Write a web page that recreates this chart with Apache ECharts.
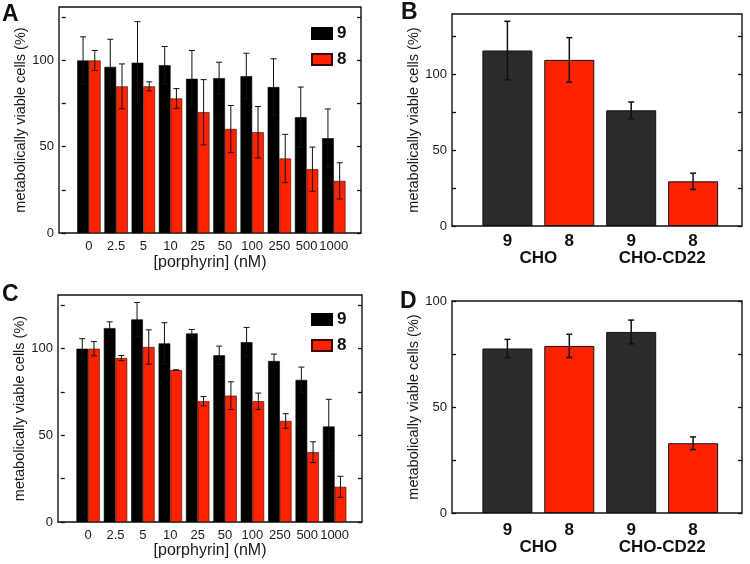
<!DOCTYPE html>
<html>
<head>
<meta charset="utf-8">
<script src="https://cdn.jsdelivr.net/npm/echarts@6.0.0/dist/echarts.min.js"></script>
<style>
html, body { margin: 0; padding: 0; background: #fff; }
#chart { width: 750px; height: 564px; }
</style>
</head>
<body>
<div id="chart"></div>
<script>
// porphyrin concentrations (nM), x categories of panels A and C
var concLabels = ['0', '2.5', '5', '10', '25', '50', '100', '250', '500', '1000'];

// panel A
var aBlack    = [100, 96.3, 98.7, 97.3, 89.4, 89.8, 90.9, 84.6, 67.1, 54.9];
var aBlackErr = [13.7, 16, 23.8, 10.8, 16.4, 9.2, 13.3, 16.4, 17.5, 17];
var aRed      = [100, 85, 85, 78, 70, 60.3, 58.4, 43.2, 37, 30.2];
var aRedErr   = [5.8, 13, 2.6, 5.7, 18.9, 13.6, 14.9, 14, 12.8, 10.5];

// panel C
var cBlack    = [100, 111.9, 116.9, 103.1, 108.8, 96.2, 103.8, 92.9, 82, 55.1];
var cBlackErr = [5.8, 3.6, 9.8, 11.9, 2.3, 5.3, 8.5, 4, 7.4, 15.7];
var cRed      = [100, 94.6, 101, 87.7, 69.7, 72.9, 69.7, 58.3, 40.3, 20.3];
var cRedErr   = [4.1, 1.5, 9.9, 0, 2.7, 8, 4.7, 4.2, 6, 6.1];

// panels B and D
var compounds = ['9', '8', '9', '8'];
var cellLines = ['CHO', 'CHO-CD22'];
var bVals = [115.9, 109.7, 76.4, 29.5];
var bErr  = [19.3, 14.7, 5.5, 5.4];
var dVals = [77.6, 78.8, 85.4, 32.9];
var dErr  = [4.3, 5.5, 5.6, 3];

// y axis ticks / labels
var yLabels   = [0, 50, 100];
var yTicksAC  = [0, 25, 50, 75, 100, 125];
var yTicksB   = [0, 25, 50, 75, 100, 125];
var yTicksD   = [0, 25, 50, 75, 100];

var BLACK = '#000000';
var GRAY = '#2b2b2b';
var RED = '#ff2200';
var FONT = 'Liberation Sans, Arial, sans-serif';

var dom = document.getElementById('chart');
var myChart = echarts.init(dom);

function positions(n) {
    var out = [];
    for (var i = 1; i <= n; i++) out.push(i);
    return out;
}

function grid(left, top, width, height) {
    return {
        left: left, top: top, width: width, height: height,
        show: true, borderColor: '#111', borderWidth: 1.4,
        backgroundColor: 'transparent'
    };
}

function leftAxis(gridIndex, max, ticks) {
    return {
        type: 'value', gridIndex: gridIndex, position: 'left',
        min: 0, max: max,
        name: 'metabolically viable cells (%)',
        nameLocation: 'middle', nameGap: 30,
        nameTextStyle: { fontSize: 14.5, color: '#1a1a1a', fontFamily: FONT },
        axisLine: { show: false },
        axisTick: { show: true, inside: true, length: 4, customValues: ticks,
            lineStyle: { color: '#111', width: 1.3 } },
        axisLabel: { customValues: yLabels, fontSize: 13, color: '#1a1a1a', margin: 5, fontFamily: FONT },
        splitLine: { show: false }
    };
}

function rightAxis(gridIndex, max, ticks) {
    return {
        type: 'value', gridIndex: gridIndex, position: 'right',
        min: 0, max: max,
        axisLine: { show: false },
        axisTick: { show: true, inside: true, length: 4, customValues: ticks,
            lineStyle: { color: '#111', width: 1.3 } },
        axisLabel: { show: false },
        splitLine: { show: false }
    };
}

function concAxis(gridIndex, nameGap) {
    return {
        type: 'value', gridIndex: gridIndex, min: -0.1, max: 11,
        name: '[porphyrin] (nM)', nameLocation: 'middle', nameGap: nameGap,
        nameTextStyle: { fontSize: 16, color: '#1a1a1a', fontFamily: FONT },
        axisLine: { show: false },
        axisTick: { show: false },
        splitLine: { show: false },
        axisLabel: {
            customValues: positions(concLabels.length),
            formatter: function (v) { return concLabels[Math.round(v) - 1]; },
            fontSize: 13, color: '#1a1a1a', margin: 7, fontFamily: FONT
        }
    };
}

function compoundAxis(gridIndex, margin) {
    return {
        type: 'value', gridIndex: gridIndex, position: 'bottom', min: 0.105, max: 4.79,
        axisLine: { show: false }, axisTick: { show: false }, splitLine: { show: false },
        axisLabel: {
            customValues: positions(compounds.length),
            formatter: function (v) { return compounds[Math.round(v) - 1]; },
            fontSize: 17, fontWeight: 'bold', color: '#111', margin: margin, fontFamily: FONT
        }
    };
}

function cellAxis(gridIndex, margin) {
    return {
        type: 'value', gridIndex: gridIndex, position: 'bottom', min: 0.105, max: 4.79,
        axisLine: { show: false }, axisTick: { show: false }, splitLine: { show: false },
        axisLabel: {
            customValues: [1.5, 3.5],
            formatter: function (v) { return cellLines[v < 2.5 ? 0 : 1]; },
            fontSize: 17, fontWeight: 'bold', color: '#111', margin: margin, fontFamily: FONT
        }
    };
}

function pairBars(name, xi, yi, vals, color, border) {
    return {
        name: name, type: 'bar', xAxisIndex: xi, yAxisIndex: yi,
        barWidth: 11.7, barGap: '0%',
        itemStyle: { color: color, borderColor: border, borderWidth: 0.6 },
        data: vals.map(function (v, i) { return [i + 1, v]; })
    };
}

function errorBars(xi, yi, vals, errs, dx, capW, lw) {
    return {
        type: 'custom', xAxisIndex: xi, yAxisIndex: yi, z: 5, silent: true,
        data: vals.map(function (v, i) { return [i + 1, v, errs[i]]; }),
        renderItem: function (params, api) {
            var x = api.value(0), y = api.value(1), e = api.value(2);
            var hi = api.coord([x, y + e]);
            var lo = api.coord([x, y - e]);
            var cx = hi[0] + dx;
            var st = { stroke: '#111', lineWidth: lw };
            return {
                type: 'group',
                children: [
                    { type: 'line', shape: { x1: cx, y1: hi[1], x2: cx, y2: lo[1] }, style: st },
                    { type: 'line', shape: { x1: cx - capW / 2, y1: hi[1], x2: cx + capW / 2, y2: hi[1] }, style: st },
                    { type: 'line', shape: { x1: cx - capW / 2, y1: lo[1], x2: cx + capW / 2, y2: lo[1] }, style: st }
                ]
            };
        }
    };
}

function cellBars(name, xi, yi, vals) {
    return {
        name: name, type: 'bar', xAxisIndex: xi, yAxisIndex: yi, barWidth: 50,
        data: vals.map(function (v, i) {
            return {
                value: [i + 1, v],
                itemStyle: { color: compounds[i] === '9' ? GRAY : RED, borderColor: '#111', borderWidth: 1 }
            };
        })
    };
}

function legend(left, top) {
    return {
        left: left, top: top, orient: 'vertical', icon: 'rect',
        itemWidth: 20, itemHeight: 11, itemGap: 9,
        data: ['9', '8'],
        textStyle: { fontSize: 17, fontWeight: 'bold', color: '#111', fontFamily: FONT }
    };
}

function letter(text, left, top) {
    return {
        text: text, left: left, top: top, padding: 0,
        textStyle: { fontSize: 23, fontWeight: 'bold', color: '#111', fontFamily: FONT }
    };
}

var option = {
    animation: false,
    textStyle: { fontFamily: FONT },
    title: [
        letter('A', 2, 3),
        letter('B', 401, 1),
        letter('C', 2, 283),
        letter('D', 400, 290)
    ],
    legend: [legend(306, 20), legend(306, 306)],
    grid: [
        grid(59, 7, 302, 226),
        grid(452, 14, 290, 212),
        grid(58, 295, 304, 227),
        grid(452, 301, 290, 212)
    ],
    xAxis: [
        concAxis(0, 22),
        compoundAxis(1, 7),
        cellAxis(1, 24),
        concAxis(2, 19),
        compoundAxis(3, 9),
        cellAxis(3, 26)
    ],
    yAxis: [
        leftAxis(0, 131, yTicksAC), rightAxis(0, 131, yTicksAC),
        leftAxis(1, 140, yTicksB), rightAxis(1, 140, yTicksB),
        leftAxis(2, 131, yTicksAC), rightAxis(2, 131, yTicksAC),
        leftAxis(3, 100, yTicksD), rightAxis(3, 100, yTicksD)
    ],
    series: [
        // A
        pairBars('9', 0, 0, aBlack, BLACK, BLACK),
        pairBars('8', 0, 0, aRed, RED, '#3a0a00'),
        errorBars(0, 0, aBlack, aBlackErr, -5.85, 6, 1),
        errorBars(0, 0, aRed, aRedErr, 5.85, 6, 1),
        // B
        cellBars('B', 1, 2, bVals),
        errorBars(1, 2, bVals, bErr, 0, 6, 1.5),
        // C
        pairBars('9', 3, 4, cBlack, BLACK, BLACK),
        pairBars('8', 3, 4, cRed, RED, '#3a0a00'),
        errorBars(3, 4, cBlack, cBlackErr, -5.85, 6, 1),
        errorBars(3, 4, cRed, cRedErr, 5.85, 6, 1),
        // D
        cellBars('D', 4, 6, dVals),
        errorBars(4, 6, dVals, dErr, 0, 6, 1.5)
    ]
};

if (option && typeof option === 'object') {
    myChart.setOption(option, true);
}
</script>
</body>
</html>
